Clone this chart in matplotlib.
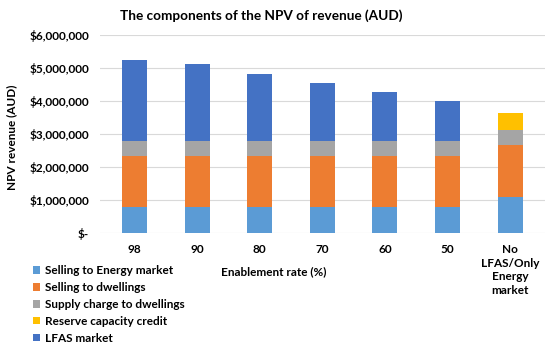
import matplotlib
matplotlib.use("Agg")
import matplotlib.pyplot as plt
import numpy as np

categories = ["98", "90", "80", "70", "60", "50", "No\nLFAS/Only\nEnergy\nmarket"]
energy_market = [0.78e6, 0.78e6, 0.78e6, 0.78e6, 0.78e6, 0.78e6, 1.10e6]
dwellings = [1.55e6, 1.55e6, 1.55e6, 1.55e6, 1.55e6, 1.55e6, 1.57e6]
supply_charge = [0.45e6, 0.45e6, 0.45e6, 0.45e6, 0.45e6, 0.45e6, 0.45e6]
reserve_credit = [0, 0, 0, 0, 0, 0, 0.53e6]
lfas = [2.48e6, 2.33e6, 2.03e6, 1.78e6, 1.49e6, 1.23e6, 0]

series = [
    ("Selling to Energy market", energy_market, "#5B9BD5"),
    ("Selling to dwellings", dwellings, "#ED7D31"),
    ("Supply charge to dwellings", supply_charge, "#A5A5A5"),
    ("Reserve capacity credit", reserve_credit, "#FFC000"),
    ("LFAS market", lfas, "#4472C4"),
]

plt.rcParams['font.family'] = ['Lato', 'DejaVu Sans']
plt.rcParams['font.weight'] = 'bold'

fig = plt.figure(figsize=(5.5, 3.55), dpi=100)
ax = fig.add_axes([0.182, 0.344, 0.808, 0.557])

x = np.arange(len(categories))
bottom = np.zeros(len(categories))
handles = []
for name, vals, col in series:
    v = np.array(vals, dtype=float)
    h = ax.bar(x, v, 0.4, bottom=bottom, color=col, label=name, zorder=3)
    handles.append(h)
    bottom += v

ax.set_ylim(0, 6e6)
ax.set_xlim(-0.55, len(categories) - 0.45)
ax.set_yticks(np.arange(0, 6.01e6, 1e6))
def fmt(v):
    return "$-" if v == 0 else "${:,.0f}".format(v)
ax.set_yticklabels([fmt(v) for v in np.arange(0, 6.01e6, 1e6)], fontsize=8.5, fontweight='bold')
ax.set_xticks(x)
ax.set_xticklabels(categories, fontsize=8.5, fontweight='bold', linespacing=1.3)
ax.tick_params(length=0, pad=8)
ax.tick_params(axis='y', pad=8)
for s in ax.spines.values():
    s.set_visible(False)
ax.grid(axis='y', color='#D9D9D9', linewidth=0.8, zorder=0)

fig.text(0.475, 0.957, "The components of the NPV of revenue (AUD)", fontsize=9.8,
         fontweight='bold', ha='center', va='center')
fig.text(0.022, 0.614, "NPV revenue (AUD)", fontsize=8.5, fontweight='bold', rotation=90,
         ha='center', va='center')
fig.text(0.497, 0.235, "Enablement rate (%)", fontsize=8.5, fontweight='bold', ha='center', va='center')

fig.legend(handles=handles, loc='upper left', bbox_to_anchor=(0.06, 0.253), frameon=False,
           fontsize=8.5, handlelength=0.6, handleheight=0.6, handletextpad=0.4, labelspacing=0.5,
           borderaxespad=0, borderpad=0)

fig.savefig("out.png", dpi=100)
